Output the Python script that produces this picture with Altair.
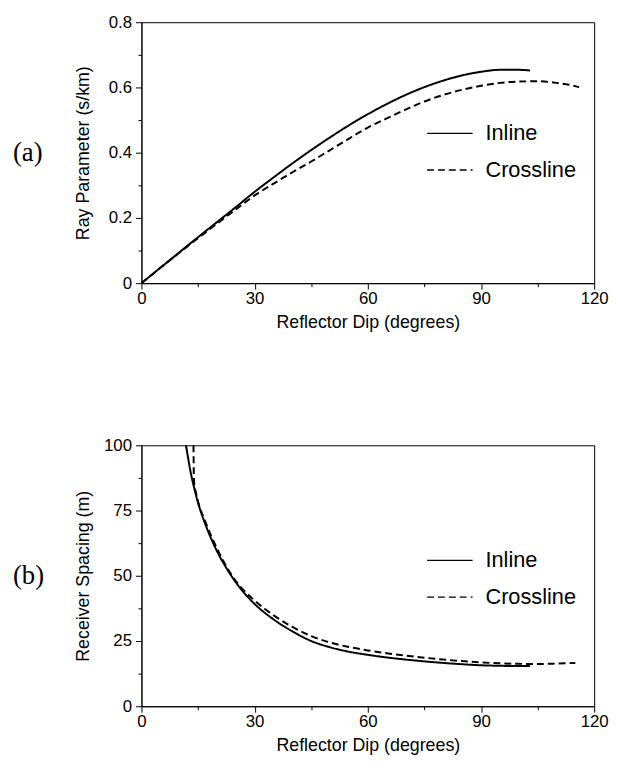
import altair as alt
import pandas as pd

# ---- panel (a): ray parameter vs reflector dip ----
dip_a_inline = [0, 5, 10, 15, 20, 25, 30, 35, 40, 45, 50, 55, 60, 65, 70, 75, 80, 85, 90, 95, 100, 103]
p_inline = [0, 0.047, 0.094, 0.141, 0.187, 0.233, 0.280, 0.324, 0.367, 0.408, 0.447, 0.484, 0.518,
            0.549, 0.577, 0.601, 0.621, 0.637, 0.648, 0.654, 0.654, 0.652]
dip_a_cross = [0, 5, 10, 15, 20, 25, 30, 35, 40, 45, 50, 55, 60, 65, 70, 75, 80, 85, 90, 95, 100, 105, 110, 115, 116]
p_cross = [0, 0.047, 0.093, 0.138, 0.182, 0.226, 0.269, 0.305, 0.340, 0.373, 0.408, 0.443, 0.477,
           0.505, 0.532, 0.557, 0.577, 0.593, 0.605, 0.614, 0.618, 0.619, 0.614, 0.604, 0.601]

# ---- panel (b): receiver spacing vs reflector dip ----
dip_b_inline = [11.8, 12.5, 13, 14, 15, 17, 20, 22.5, 25, 30, 35, 40, 45, 50, 55, 60, 65, 70, 75, 80,
                85, 90, 95, 100, 103]
dx_inline = [100, 94, 90, 83.5, 78, 69.5, 59.5, 53, 47.5, 39.2, 33.3, 28.7, 25.0, 22.6, 20.9, 19.7,
             18.7, 17.9, 17.2, 16.6, 16.1, 15.7, 15.5, 15.4, 15.4]
dip_b_cross = [13.8, 13.85, 13.95, 14.5, 15, 17, 20, 25, 30, 35, 40, 45, 50, 55, 60, 65, 70, 75, 80,
               85, 90, 95, 100, 105, 110, 115]
dx_cross = [100, 92, 86, 81.5, 78.5, 70.5, 60.5, 48, 40.5, 34.9, 30.4, 26.9, 24.4, 22.7, 21.4, 20.3,
            19.4, 18.6, 17.9, 17.3, 16.8, 16.45, 16.25, 16.2, 16.35, 16.6]

series_names = ["Inline", "Crossline"]
x_ticks = [0, 15, 30, 45, 60, 75, 90, 105, 120]
ya_ticks = [0, 0.1, 0.2, 0.3, 0.4, 0.5, 0.6, 0.7, 0.8]
yb_ticks = [0, 12.5, 25, 37.5, 50, 62.5, 75, 87.5, 100]

W, H = 458, 264
FONT = "Liberation Sans"


def make_df(xs1, ys1, xs2, ys2):
    return pd.concat([
        pd.DataFrame({"dip": xs1, "val": ys1, "series": series_names[0]}),
        pd.DataFrame({"dip": xs2, "val": ys2, "series": series_names[1]}),
    ])


def panel(df, ytitle, ydomain, yticks, major_test, ylabel_fmt, tag, legend_y):
    x_axis = alt.Axis(
        values=x_ticks, title="Reflector Dip (degrees)",
        labelExpr="datum.value % 30 == 0 ? datum.label : ''",
        tickSize=alt.condition("datum.value % 30 == 0", alt.value(6), alt.value(3.5)),
        labelFlush=False, labelPadding=2, titleY=45, titleBaseline="alphabetic",
        titleX=W / 2,
    )
    y_axis = alt.Axis(
        values=yticks, title=ytitle,
        labelExpr=f"{major_test} ? {ylabel_fmt} : ''",
        tickSize=alt.condition(major_test, alt.value(6), alt.value(3.5)),
        labelPadding=4, titleX=-54, titleY=H / 2, titleBaseline="alphabetic", titleAngle=270,
    )
    lines = alt.Chart(df).mark_line(color="black", strokeWidth=2, interpolate="monotone", clip=True).encode(
        x=alt.X("dip:Q", scale=alt.Scale(domain=[0, 120], nice=False, zero=False), axis=x_axis),
        y=alt.Y("val:Q", scale=alt.Scale(domain=ydomain, nice=False), axis=y_axis),
        strokeDash=alt.StrokeDash(
            "series:N",
            scale=alt.Scale(domain=series_names, range=[[1, 0], [7, 4]]),
            legend=alt.Legend(
                orient="none", legendX=311, legendY=legend_y, title=None,
                symbolType="M-3,0H1", symbolSize=529, symbolStrokeWidth=1.3,
                symbolStrokeColor="black", labelFontSize=22, labelFont=FONT,
                labelColor="black", labelOffset=12, rowPadding=13, padding=0,
            ),
        ),
    )
    label = alt.Chart(pd.DataFrame({"t": [tag]})).mark_text(
        font="Liberation Serif", fontSize=27, align="left", baseline="middle", color="black"
    ).encode(x=alt.value(-130), y=alt.value(H / 2), text="t:N")
    return alt.layer(lines, label).properties(width=W, height=H)


df_a = make_df(dip_a_inline, p_inline, dip_a_cross, p_cross)
df_b = make_df(dip_b_inline, dx_inline, dip_b_cross, dx_cross)

top = panel(df_a, "Ray Parameter (s/km)", [0, 0.8], ya_ticks,
            "round(datum.value * 10) % 2 == 0", "format(datum.value, '~g')", "(a)", 100)
bottom = panel(df_b, "Receiver Spacing (m)", [0, 100], yb_ticks,
               "datum.value % 25 == 0", "datum.label", "(b)", 104)

chart = alt.vconcat(top, bottom, spacing=164, bounds="flush").resolve_scale(
    strokeDash="independent", y="independent"
).resolve_legend(strokeDash="independent").properties(
    padding={"left": 4, "top": 0, "right": 0, "bottom": 0}
).configure_view(stroke="black", strokeWidth=1).configure_axis(
    grid=False, domainColor="black", domainWidth=1, tickColor="black", tickWidth=1,
    labelColor="black", titleColor="black", labelFont=FONT, titleFont=FONT,
    labelFontSize=17, titleFontSize=18, titleFontWeight="normal",
)

chart.save("out.html", embed_options={"renderer": "svg", "actions": False})
